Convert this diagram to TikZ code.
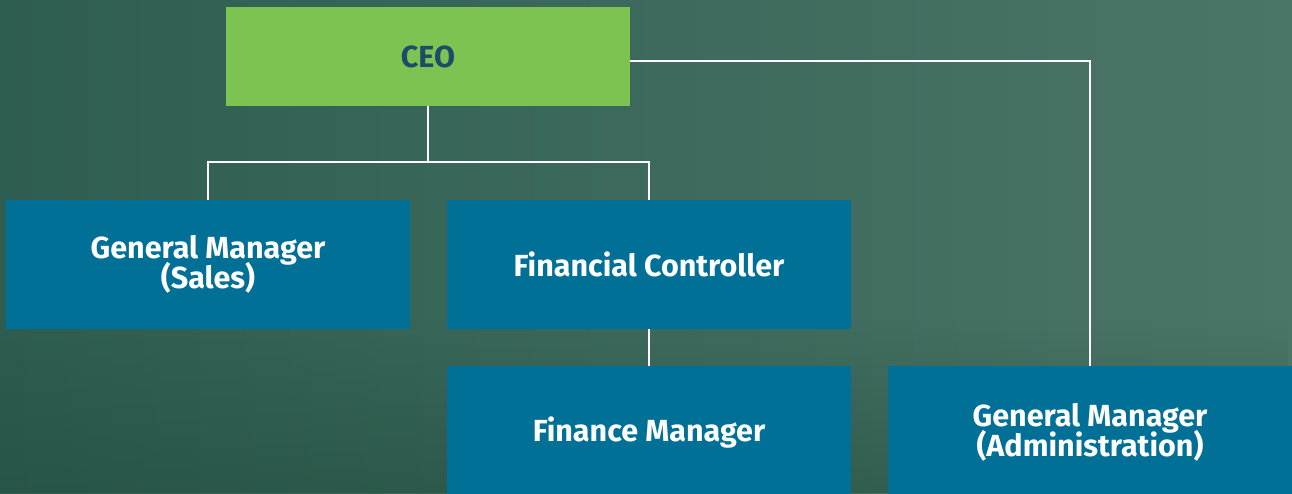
\documentclass[tikz,border=0pt]{standalone}
\usepackage{fontspec}
\setmainfont{Fira Sans}
\usepackage{tikz}
\usetikzlibrary{fadings}

\definecolor{ceogreen}{HTML}{7DC352}
\definecolor{boxblue}{HTML}{007096}
\definecolor{ceotext}{HTML}{1D4C69}
\definecolor{forestdark}{HTML}{2E5E51}
\definecolor{forestlight}{HTML}{4B7567}
\definecolor{forestdeep}{HTML}{1F4A3B}

\begin{document}
\begin{tikzpicture}[x=1pt,y=-1pt,
	post/.style={shape=rectangle,fill=boxblue,text=white,minimum width=404pt,minimum height=129pt,inner sep=0pt,align=center,
		font=\bfseries\fontsize{30.5}{29.5}\selectfont},
	link/.style={draw=white,line width=2.6pt}]
	\useasboundingbox (0,0) rectangle (1292,493);
	\clip (0,0) rectangle (1292,493);

	% misty forest backdrop
	\shade[left color=forestdark,right color=forestlight] (0,0) rectangle (1292,493);
	\fill[forestdeep,path fading=north,opacity=0.45] (0,320) rectangle (1292,493);

	\node[post,fill=ceogreen,text=ceotext,minimum height=99pt] (ceo) at (428, 56.5) {CEO};
	\node[post] (gms) at (208, 264.5) {General Manager\\[-3.5pt](Sales)};
	\node[post] (fc)  at (649, 264.5) {Financial Controller};
	% bottom row runs past the lower edge
	\node[post,minimum height=133pt] (fm)  at (649, 432.5)  {Finance Manager};
	\node[post,minimum height=133pt] (gma) at (1090, 432.5) {General Manager\\[-3.5pt](Administration)};

	\coordinate (bus) at (428, 162);

	\path[link] (ceo.south) -- (bus);
	\path[link] (gms.north) |- (bus) -| (fc.north);
	\path[link] (fc.south) -- (fm.north);
	\path[link] ([yshift=-4.5pt]ceo.east) -| (gma.north);
\end{tikzpicture}
\end{document}
